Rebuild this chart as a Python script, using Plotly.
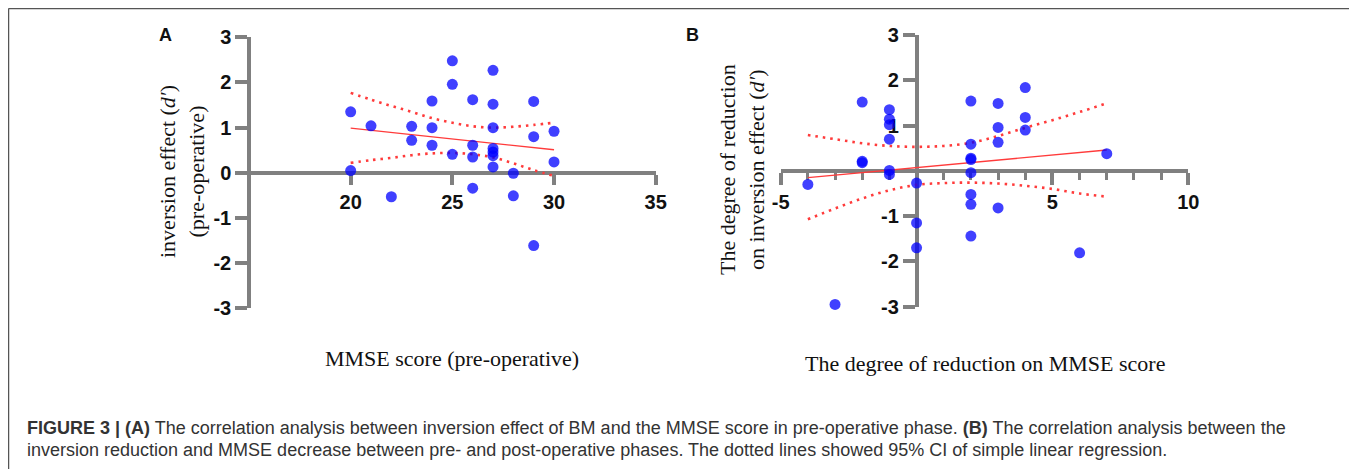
import plotly.graph_objects as go

# ---------------- Data ----------------
# Panel A: MMSE score (pre-operative) vs inversion effect (d')
a_x = [20, 20, 21, 22, 23, 23, 24, 24, 24, 25, 25, 25, 26, 26, 26, 26,
       27, 27, 27, 27, 27, 27, 27, 28, 28, 29, 29, 29, 30, 30]
a_y = [1.35, 0.05, 1.04, -0.53, 1.03, 0.72, 1.59, 1.00, 0.61, 2.48, 1.96, 0.41,
       1.62, 0.61, 0.35, -0.34, 2.27, 1.52, 1.00, 0.54, 0.46, 0.38, 0.13,
       -0.01, -0.51, 1.58, 0.80, -1.61, 0.92, 0.24]
a_fit_x = [20, 30]
a_fit_y = [0.99, 0.51]
a_ci_x = [20, 21, 22, 23, 24, 25, 26, 27, 28, 29, 30]
a_ci_hi = [1.77, 1.62, 1.48, 1.35, 1.21, 1.11, 1.03, 1.00, 1.02, 1.06, 1.11]
a_ci_lo = [0.22, 0.28, 0.33, 0.39, 0.43, 0.44, 0.41, 0.34, 0.21, 0.06, -0.07]

# Panel B: degree of reduction on MMSE vs reduction on inversion effect
b_x = [-4, -3, -2, -2, -2, -1, -1, -1, -1, -1, -1, 0, 0, 0,
       2, 2, 2, 2, 2, 2, 2, 2, 3, 3, 3, 3, 4, 4, 4, 6, 7]
b_y = [-0.30, -2.95, 1.52, 0.21, 0.18, 1.35, 1.14, 1.02, 0.70, 0.01, -0.08,
       -0.27, -1.15, -1.70, 1.54, 0.59, 0.28, 0.25, -0.04, -0.52, -0.74, -1.44,
       1.49, 0.96, 0.63, -0.82, 1.84, 1.18, 0.90, -1.81, 0.38]
b_fit_x = [-4, 7]
b_fit_y = [-0.15, 0.46]
b_ci_x = [-4, -3, -2, -1, 0, 1, 2, 3, 4, 5, 6, 7]
b_ci_hi = [0.79, 0.70, 0.61, 0.55, 0.53, 0.55, 0.62, 0.77, 0.95, 1.12, 1.30, 1.49]
b_ci_lo = [-1.07, -0.83, -0.61, -0.43, -0.31, -0.27, -0.26, -0.28, -0.33, -0.40, -0.50, -0.57]

a_xticks = [20, 25, 30, 35]
a_xticklabels = ["20", "25", "30", "35"]
a_yticks = [-3, -2, -1, 0, 1, 2, 3]
a_yticklabels = ["-3", "-2", "-1", "0", "1", "2", "3"]
b_xticks = [-5, 0, 5, 10]
b_xticklabels = ["-5", "", "5", "10"]
b_yticks = [-3, -2, -1, 0, 1, 2, 3]
b_yticklabels = ["-3", "-2", "-1", "", "1", "2", "3"]

# ---------------- Styling ----------------
PAGE_OFF = 8                      # default page body margin
W, H = 1357 - PAGE_OFF, 469 - PAGE_OFF
GRAY = "#808080"
BLUE = "rgba(0,0,255,0.75)"
RED = "#ff3b3b"
SERIF = "Liberation Serif, Times New Roman, serif"
SANS = "Liberation Sans, Arial, sans-serif"
tickfont = dict(family=SANS, size=20, color="#111111", weight="bold")


def px_x(p):
    return (p - PAGE_OFF) / W


def px_y(p):
    return 1 - (p - PAGE_OFF) / H


fig = go.Figure()

def add_panel(xs, ys, fx, fy, cx, chi, clo, xa, ya):
    for band in (chi, clo):
        fig.add_trace(go.Scatter(x=cx, y=band, mode="lines",
                                 line=dict(color=RED, width=2.6, dash="2.5px,5px", shape="spline"),
                                 xaxis=xa, yaxis=ya, showlegend=False, hoverinfo="skip"))
    fig.add_trace(go.Scatter(x=fx, y=fy, mode="lines", line=dict(color=RED, width=1.3),
                             xaxis=xa, yaxis=ya, showlegend=False, hoverinfo="skip"))
    fig.add_trace(go.Scatter(x=xs, y=ys, mode="markers", marker=dict(color=BLUE, size=11, line=dict(width=0)),
                             xaxis=xa, yaxis=ya, showlegend=False, cliponaxis=False))


add_panel(a_x, a_y, a_fit_x, a_fit_y, a_ci_x, a_ci_hi, a_ci_lo, "x", "y")
add_panel(b_x, b_y, b_fit_x, b_fit_y, b_ci_x, b_ci_hi, b_ci_lo, "x2", "y2")

a_xdom = [px_x(249), px_x(655.7)]
a_ydom = [px_y(308.3), px_y(37.3)]
b_xdom = [px_x(780.7), px_x(1188.3)]
b_ydom = [px_y(306.7), px_y(35)]

common = dict(showline=True, linecolor=GRAY, linewidth=3.5, ticks="outside", tickcolor=GRAY,
              tickwidth=3.5, showgrid=False, zeroline=False, tickfont=tickfont, layer="below traces",
              fixedrange=True, automargin=False, tickmode="array")

fig.update_layout(
    template="none",
    width=W, height=H, autosize=False,
    margin=dict(l=0, r=0, t=0, b=0, pad=0),
    paper_bgcolor="white", plot_bgcolor="rgba(0,0,0,0)",
    xaxis=dict(domain=a_xdom, range=[15, 35], anchor="free",
               position=(a_ydom[0] + a_ydom[1]) / 2, tickvals=a_xticks, ticktext=a_xticklabels,
               ticklen=10, **common),
    yaxis=dict(domain=a_ydom, range=[-3, 3], anchor="free", position=a_xdom[0],
               tickvals=a_yticks, ticktext=a_yticklabels, ticklen=12, **common),
    xaxis2=dict(domain=b_xdom, range=[-5, 10], anchor="free",
                position=(b_ydom[0] + b_ydom[1]) / 2, tickvals=b_xticks, ticktext=b_xticklabels, ticklen=12,
                minor=dict(dtick=1, tick0=0, ticks="outside", ticklen=7, tickwidth=3, tickcolor=GRAY), **common),
    yaxis2=dict(domain=b_ydom, range=[-3, 3], anchor="free",
                position=b_xdom[0] + (b_xdom[1] - b_xdom[0]) * 5 / 15,
                tickvals=b_yticks, ticktext=b_yticklabels, ticklen=12, **common),
)

ann = []
# Panel letters
ann.append(dict(text="<b>A</b>", x=px_x(165), y=px_y(35), font=dict(family=SANS, size=18, color="#111")))
ann.append(dict(text="<b>B</b>", x=px_x(692), y=px_y(35), font=dict(family=SANS, size=18, color="#111")))
# Axis titles
ann.append(dict(text="MMSE score (pre-operative)", x=px_x(452), y=px_y(358),
                font=dict(family=SERIF, size=22, color="#111")))
ann.append(dict(text="The degree of reduction on MMSE score", x=px_x(985), y=px_y(363),
                font=dict(family=SERIF, size=22, color="#111")))
ann.append(dict(text="inversion effect (<i>d′</i>)<br>(pre-operative)", x=px_x(182), y=px_y(172),
                textangle=-90, font=dict(family=SERIF, size=22, color="#111")))
ann.append(dict(text="The degree of reduction<br>on inversion effect (<i>d′</i>)", x=px_x(742), y=px_y(170),
                textangle=-90, font=dict(family=SERIF, size=22, color="#111")))
# Caption
ann.append(dict(text="<b>FIGURE 3 | (A)</b> The correlation analysis between inversion effect of BM and the MMSE score in pre-operative phase. <b>(B)</b> The correlation analysis between the",
                x=px_x(25), y=px_y(428), xanchor="left", font=dict(family=SANS, size=18, color="#333")))
ann.append(dict(text="inversion reduction and MMSE decrease between pre- and post-operative phases. The dotted lines showed 95% CI of simple linear regression.",
                x=px_x(25), y=px_y(450), xanchor="left", font=dict(family=SANS, size=18, color="#333")))

for a in ann:
    a.setdefault("xanchor", "center")
    a.update(xref="paper", yref="paper", yanchor="middle", showarrow=False)
fig.update_layout(annotations=ann)

# Figure frame
frame = dict(type="line", xref="paper", yref="paper", line=dict(color="#555555", width=1.5))
fig.update_layout(shapes=[
    dict(frame, x0=px_x(8.5), x1=px_x(1355), y0=px_y(8.5), y1=px_y(8.5)),
    dict(frame, x0=px_x(8.5), x1=px_x(8.5), y0=px_y(8.5), y1=-0.05),
    dict(frame, x0=px_x(1355), x1=px_x(1355), y0=px_y(8.5), y1=-0.05),
])

fig.write_html("out.html")
